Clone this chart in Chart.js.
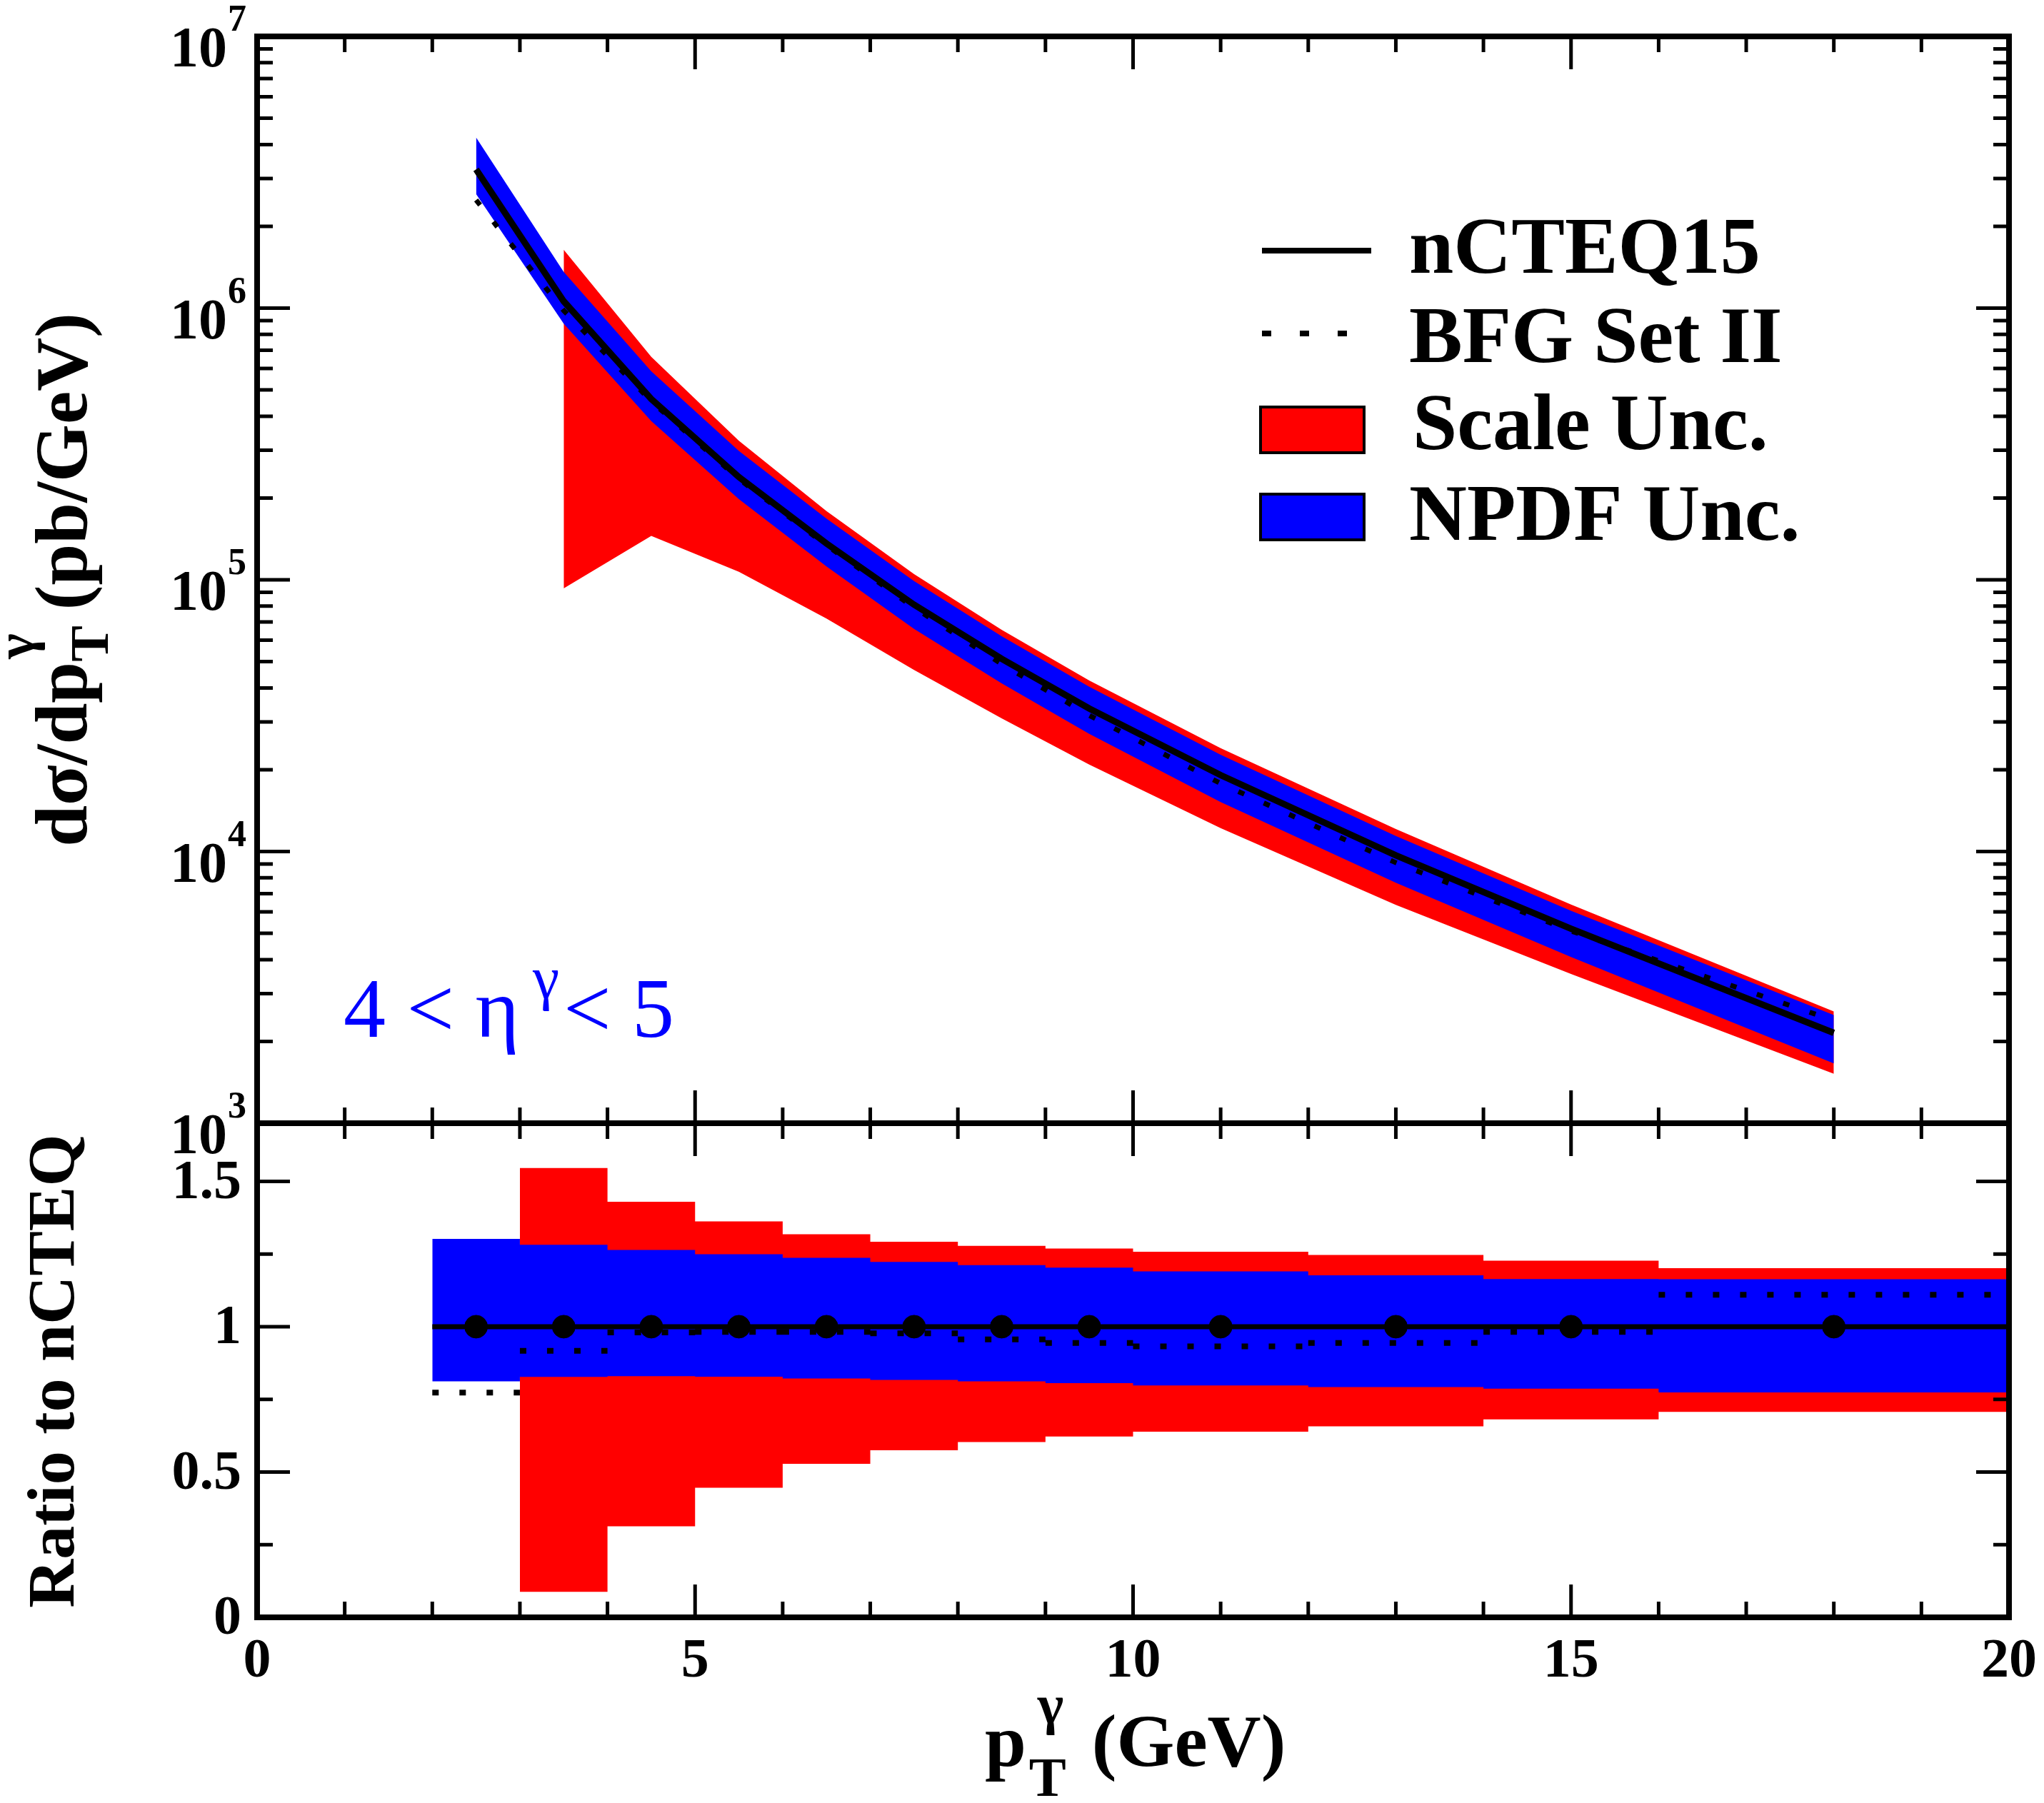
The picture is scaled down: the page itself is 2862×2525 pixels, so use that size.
<!DOCTYPE html>
<html>
<head>
<meta charset="utf-8">
<script src="https://cdn.jsdelivr.net/npm/chart.js@4.4.1/dist/chart.umd.min.js"></script>
<style>
  html, body { margin: 0; padding: 0; background: #fff; }
  #wrap { position: relative; width: 2862px; height: 2525px; overflow: hidden; background: #fff; }
  canvas { position: absolute; left: 0; }
  #bot { top: 1500px; }
  #top { top: 0; }
</style>
</head>
<body>
<div id="wrap">
  <canvas id="bot" width="2862" height="1025"></canvas>
  <canvas id="top" width="2862" height="1700"></canvas>
</div>
<script>
// bin centres / edges (GeV)
const ptCenters = [2.5, 3.5, 4.5, 5.5, 6.5, 7.5, 8.5, 9.5, 11, 13, 15, 18];
const binEdges = [2, 3, 4, 5, 6, 7, 8, 9, 10, 12, 14, 16, 20];

// top panel, dsigma/dpT (pb/GeV)
const nCTEQ15 = [3.24e6, 1.06e6, 4.63e5, 2.39e5, 1.36e5, 8.1e4, 5.12e4, 3.36e4, 1.91e4, 9.68e3, 5.2e3, 2.15e3];
const bfgSetII = [2.5e6, 9.8e5, 4.54e5, 2.35e5, 1.34e5, 7.9e4, 4.9e4, 3.17e4, 1.78e4, 9.1e3, 5.1e3, 2.39e3];
const npdfHi = [4.25e6, 1.36e6, 5.85e5, 2.98e5, 1.68e5, 9.9e4, 6.2e4, 4.04e4, 2.27e4, 1.14e4, 6.05e3, 2.5e3];
const npdfLo = [2.63e6, 8.77e5, 3.84e5, 1.98e5, 1.12e5, 6.6e4, 4.16e4, 2.71e4, 1.52e4, 7.67e3, 4.09e3, 1.66e3];
const scaleHi = [null, 1.64e6, 6.62e5, 3.25e5, 1.79e5, 1.05e5, 6.55e4, 4.26e4, 2.4e4, 1.21e4, 6.38e3, 2.58e3];
const scaleLo = [null, 9.3e4, 1.45e5, 1.07e5, 7.2e4, 4.66e4, 3.09e4, 2.09e4, 1.22e4, 6.36e3, 3.54e3, 1.52e3];

// bottom panel, ratio to nCTEQ (one value per bin)
const ratioNominal = [1, 1, 1, 1, 1, 1, 1, 1, 1, 1, 1, 1];
const ratioBfg = [0.773, 0.917, 0.980, 0.982, 0.982, 0.977, 0.956, 0.944, 0.932, 0.944, 0.982, 1.110];
const ratioNpdfHi = [1.302, 1.282, 1.264, 1.249, 1.237, 1.223, 1.212, 1.203, 1.190, 1.177, 1.164, 1.163];
const ratioNpdfLo = [0.812, 0.827, 0.830, 0.828, 0.822, 0.817, 0.812, 0.806, 0.798, 0.792, 0.787, 0.774];
const ratioScaleHi = [null, 1.546, 1.430, 1.362, 1.318, 1.292, 1.278, 1.269, 1.258, 1.247, 1.227, 1.201];
const ratioScaleLo = [null, 0.088, 0.313, 0.446, 0.528, 0.575, 0.603, 0.622, 0.639, 0.657, 0.681, 0.707];

// ticks
const xMajor = [0, 5, 10, 15, 20];
const xTickLabels = ['0', '5', '10', '15', '20'];
const logMajor = [1e3, 1e4, 1e5, 1e6, 1e7];
const logExps = ['3', '4', '5', '6', '7'];
const ratioMajor = [0, 0.5, 1, 1.5];
const ratioMinor = [0.25, 0.75, 1.25];
const ratioTickLabels = ['0', '0.5', '1', '1.5'];

const RED = '#ff0000';
const BLUE = '#0000ff';
const SERIF = '"Liberation Serif", "DejaVu Serif", serif';
const MAJOR = 46, MINOR = 22;

const logMinor = [];
for (let e = 3; e < 7; e++) for (let k = 2; k <= 9; k++) logMinor.push(k * Math.pow(10, e));

function pts(vals) {
  return vals.map((v, i) => ({ x: ptCenters[i], y: v })).filter(p => p.y !== null);
}
function steps(vals, gaps) {
  const out = [];
  vals.forEach((v, i) => {
    if (v === null) return;
    out.push({ x: binEdges[i], y: v }, { x: binEdges[i + 1], y: v });
    if (gaps) out.push({ x: binEdges[i + 1], y: null });
  });
  return out;
}

function drawRich(ctx, parts, x, y) {
  let cx = x, prevStart = x, prevW = 0;
  for (const p of parts) {
    ctx.font = p.f;
    const pw = ctx.measureText(p.t).width;
    if (p.ov) {
      ctx.fillText(p.t, prevStart + (p.dx || 0), y + (p.dy || 0));
      const end = Math.max(prevStart + prevW, prevStart + (p.dx || 0) + pw);
      prevW = end - prevStart;
      cx = end;
    } else {
      cx += (p.dx || 0);
      ctx.fillText(p.t, cx, y + (p.dy || 0));
      prevStart = cx; prevW = pw; cx += pw;
    }
  }
  return cx - x;
}
function richWidth(ctx, parts) {
  ctx.save();
  ctx.globalAlpha = 0;
  const w = drawRich(ctx, parts, 0, 0);
  ctx.restore();
  return w;
}

function drawFrame(chart, yMajor, yMinor) {
  const { ctx, chartArea: a } = chart;
  const sx = chart.scales.x, sy = chart.scales.y;
  ctx.save();
  ctx.strokeStyle = '#000';
  ctx.lineWidth = 5;
  ctx.beginPath();
  for (let v = 0; v <= 20; v++) {
    const len = xMajor.includes(v) ? MAJOR : MINOR;
    const p = sx.getPixelForValue(v);
    ctx.moveTo(p, a.bottom); ctx.lineTo(p, a.bottom - len);
    ctx.moveTo(p, a.top); ctx.lineTo(p, a.top + len);
  }
  [[yMajor, MAJOR], [yMinor, MINOR]].forEach(([arr, len]) => arr.forEach(v => {
    const p = sy.getPixelForValue(v);
    ctx.moveTo(a.left, p); ctx.lineTo(a.left + len, p);
    ctx.moveTo(a.right, p); ctx.lineTo(a.right - len, p);
  }));
  ctx.stroke();
  ctx.lineWidth = 8;
  ctx.strokeRect(a.left, a.top, a.right - a.left, a.bottom - a.top);
  ctx.restore();
}

const topDecor = {
  id: 'topDecor',
  afterDraw(chart) {
    const ctx = chart.ctx;
    const sy = chart.scales.y;
    drawFrame(chart, logMajor, logMinor);

    ctx.save();
    ctx.fillStyle = '#000';
    ctx.textBaseline = 'alphabetic';
    // log tick labels 10^n
    logMajor.forEach((v, i) => {
      const py = sy.getPixelForValue(v);
      ctx.textAlign = 'right';
      ctx.font = 'bold 52px ' + SERIF;
      const sw = ctx.measureText(logExps[i]).width;
      ctx.fillText(logExps[i], 345, py - 8);
      ctx.font = 'bold 80px ' + SERIF;
      ctx.fillText('10', 345 - sw - 1, py + 42);
    });

    // y title
    ctx.textAlign = 'left';
    const yParts = [
      { t: 'dσ/dp', f: 'bold 104px ' + SERIF },
      { t: 'T', f: 'bold 76px ' + SERIF, dy: 30 },
      { t: 'γ', f: 'bold 76px ' + SERIF, dy: -74, dx: 4, ov: true },
      { t: '(pb/GeV)', f: 'bold 104px ' + SERIF, dx: 22 }
    ];
    const yw = richWidth(ctx, yParts);
    ctx.save();
    ctx.translate(121, 812);
    ctx.rotate(-Math.PI / 2);
    drawRich(ctx, yParts, -yw / 2, 0);
    ctx.restore();

    // legend
    ctx.strokeStyle = '#000';
    ctx.lineWidth = 8;
    ctx.beginPath(); ctx.moveTo(1767, 351); ctx.lineTo(1920, 351); ctx.stroke();
    ctx.setLineDash([13, 40]);
    ctx.beginPath(); ctx.moveTo(1767, 467); ctx.lineTo(1920, 467); ctx.stroke();
    ctx.setLineDash([]);
    ctx.lineWidth = 4;
    ctx.fillStyle = RED; ctx.fillRect(1765, 570, 145, 64); ctx.strokeRect(1765, 570, 145, 64);
    ctx.fillStyle = BLUE; ctx.fillRect(1765, 692, 145, 64); ctx.strokeRect(1765, 692, 145, 64);
    ctx.fillStyle = '#000';
    ctx.font = 'bold 112px ' + SERIF;
    ctx.fillText('nCTEQ15', 1973, 382);
    ctx.fillText('BFG Set II', 1973, 507);
    ctx.fillText('Scale Unc.', 1978, 629);
    ctx.fillText('NPDF Unc.', 1973, 756);

    // rapidity annotation
    ctx.fillStyle = BLUE;
    ctx.font = '118px ' + SERIF;
    ctx.fillText('4 < η', 481, 1452);
    ctx.font = '84px ' + SERIF;
    ctx.fillText('γ', 746, 1398);
    ctx.font = '118px ' + SERIF;
    ctx.fillText('< 5', 789, 1452);
    ctx.restore();
  }
};

const botDecor = {
  id: 'botDecor',
  afterDraw(chart) {
    const ctx = chart.ctx;
    const sx = chart.scales.x, sy = chart.scales.y;
    drawFrame(chart, ratioMajor, ratioMinor);

    ctx.save();
    ctx.fillStyle = '#000';
    ctx.font = 'bold 78px ' + SERIF;
    ctx.textAlign = 'right';
    ctx.textBaseline = 'middle';
    ratioMajor.forEach((v, i) => ctx.fillText(ratioTickLabels[i], 338, sy.getPixelForValue(v) + 3));
    ctx.textAlign = 'center';
    ctx.textBaseline = 'alphabetic';
    xMajor.forEach((v, i) => ctx.fillText(xTickLabels[i], sx.getPixelForValue(v), 848));

    // x title
    ctx.textAlign = 'left';
    drawRich(ctx, [
      { t: 'p', f: 'bold 104px ' + SERIF },
      { t: 'T', f: 'bold 78px ' + SERIF, dy: 42, dx: 4 },
      { t: 'γ', f: 'bold 78px ' + SERIF, dy: -60, dx: 12, ov: true },
      { t: '(GeV)', f: 'bold 104px ' + SERIF, dx: 36 }
    ], 1379, 973);

    // y title
    ctx.font = 'bold 94px ' + SERIF;
    ctx.save();
    ctx.translate(103, 420);
    ctx.rotate(-Math.PI / 2);
    ctx.textAlign = 'center';
    ctx.fillText('Ratio to nCTEQ', 0, 0);
    ctx.restore();
    ctx.restore();
  }
};

const band = (color, data, fill) => ({
  data, borderWidth: 0, borderColor: color, backgroundColor: color,
  pointRadius: 0, fill: fill ? '+1' : false, tension: 0
});

new Chart(document.getElementById('top'), {
  type: 'line',
  data: {
    datasets: [
      { label: 'nCTEQ15', data: pts(nCTEQ15), borderColor: '#000', borderWidth: 9, pointRadius: 0, fill: false, order: 0 },
      { label: 'BFG Set II', data: pts(bfgSetII), borderColor: '#000', borderWidth: 7, borderDash: [9, 30], pointRadius: 0, fill: false, order: 1 },
      Object.assign(band(BLUE, pts(npdfHi), true), { label: 'NPDF Unc.', order: 2 }),
      Object.assign(band(BLUE, pts(npdfLo), false), { label: 'NPDF lo', order: 3 }),
      Object.assign(band(RED, pts(scaleHi), true), { label: 'Scale Unc.', order: 4 }),
      Object.assign(band(RED, pts(scaleLo), false), { label: 'Scale lo', order: 5 })
    ]
  },
  options: {
    responsive: false,
    animation: false,
    devicePixelRatio: 1,
    layout: { padding: { left: 360, right: 49, top: 51, bottom: 127 } },
    scales: {
      x: { type: 'linear', min: 0, max: 20, display: false },
      y: { type: 'logarithmic', min: 1e3, max: 1e7, display: false }
    },
    plugins: { legend: { display: false }, tooltip: { enabled: false } }
  },
  plugins: [topDecor]
});

new Chart(document.getElementById('bot'), {
  type: 'line',
  data: {
    datasets: [
      { label: 'nCTEQ15 points', data: pts(ratioNominal), showLine: false, pointRadius: 16, pointBackgroundColor: '#000', pointBorderColor: '#000', order: 0 },
      { label: 'nCTEQ15', data: steps(ratioNominal, false), borderColor: '#000', borderWidth: 7, pointRadius: 0, fill: false, order: 1 },
      { label: 'BFG Set II', data: steps(ratioBfg, true), borderColor: '#000', borderWidth: 8, borderDash: [9, 29], pointRadius: 0, fill: false, spanGaps: false, order: 2 },
      Object.assign(band(BLUE, steps(ratioNpdfHi, false), true), { label: 'NPDF Unc.', order: 3 }),
      Object.assign(band(BLUE, steps(ratioNpdfLo, false), false), { label: 'NPDF lo', order: 4 }),
      Object.assign(band(RED, steps(ratioScaleHi, false), true), { label: 'Scale Unc.', order: 5 }),
      Object.assign(band(RED, steps(ratioScaleLo, false), false), { label: 'Scale lo', order: 6 })
    ]
  },
  options: {
    responsive: false,
    animation: false,
    devicePixelRatio: 1,
    layout: { padding: { left: 360, right: 49, top: 73, bottom: 260 } },
    scales: {
      x: { type: 'linear', min: 0, max: 20, display: false },
      y: { type: 'linear', min: 0, max: 1.7, display: false }
    },
    plugins: { legend: { display: false }, tooltip: { enabled: false } }
  },
  plugins: [botDecor]
});
</script>
</body>
</html>
